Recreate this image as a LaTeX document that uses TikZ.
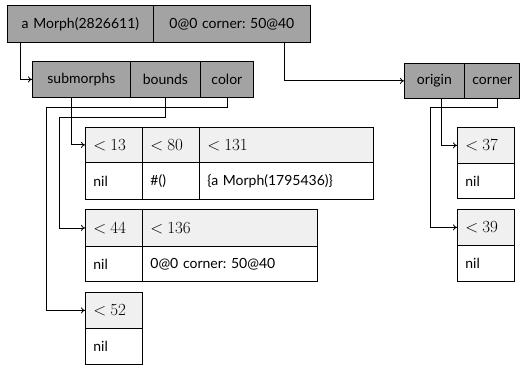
\documentclass[tikz,border=0pt]{standalone}
\usepackage{fontspec}
\setmainfont{Lato}
\newfontfamily\stampfont{Latin Modern Roman}
\usetikzlibrary{arrows.meta}
\frenchspacing
\definecolor{slotgray}{HTML}{A3A3A3}
\definecolor{headgray}{HTML}{F0F0F0}
% one table cell: name, x1, y1, x2, y2, style, text (pixel-like units, y downwards)
\newcommand\tcell[7]{%
  \pgfmathsetmacro\cw{#4-#2}\pgfmathsetmacro\ch{#5-#3}\pgfmathsetmacro\tw{#4-#2-16}%
  \node[#6, minimum width=\cw pt, minimum height=\ch pt, text width=\tw pt,
        anchor=north west] (#1) at (#2,-#3) {#7};}
% a version stamp such as "< 13"
\newcommand\stamp[1]{{\stampfont\fontsize{17}{19}\selectfont <\kern4pt#1}}
\begin{document}
\begin{tikzpicture}[x=1pt,y=1pt,
  every node/.style={font=\fontsize{14}{16}\selectfont, inner xsep=8pt, inner ysep=0pt, draw=black, line width=0.8pt},
  slot/.style={fill=slotgray, align=center},
  head/.style={fill=headgray, align=left},
  val/.style={fill=white, align=left},
  arr/.style={draw=black, line width=0.8pt, -{To[length=4pt,width=6pt]}}]
\useasboundingbox (0,0) rectangle (524,-366);
% receiver object and its slot names
\tcell{mA}{7}{5}{153}{42}{slot}{a Morph(2826611)}
\tcell{mB}{153}{5}{310}{42}{slot}{0@0 corner: 50@40}
\tcell{s1}{32}{61}{130}{97}{slot}{submorphs}
\tcell{s2}{130}{61}{200}{97}{slot}{bounds}
\tcell{s3}{200}{61}{253}{97}{slot}{color}
\tcell{o1}{404}{63}{464}{98}{slot}{origin}
\tcell{o2}{464}{63}{519}{98}{slot}{corner}
% submorphs history
\tcell{a1}{85}{127}{142}{162}{head}{\stamp{13}}
\tcell{a2}{142}{127}{199}{162}{head}{\stamp{80}}
\tcell{a3}{199}{127}{373}{162}{head}{\stamp{131}}
\tcell{b1}{85}{162}{142}{199}{val}{nil}
\tcell{b2}{142}{162}{199}{199}{val}{\#()}
\tcell{b3}{199}{162}{373}{199}{val}{\{a Morph(1795436)\}}
% bounds history
\tcell{c1}{85}{209}{142}{246}{head}{\stamp{44}}
\tcell{c2}{142}{209}{317}{246}{head}{\stamp{136}}
\tcell{d1}{85}{246}{142}{281}{val}{nil}
\tcell{d2}{142}{246}{317}{281}{val}{0@0 corner: 50@40}
% color history
\tcell{e1}{85}{292}{142}{328}{head}{\stamp{52}}
\tcell{f1}{85}{328}{142}{364}{val}{nil}
% origin and corner histories
\tcell{g1}{457}{127}{514}{163}{head}{\stamp{37}}
\tcell{h1}{457}{163}{514}{198}{val}{nil}
\tcell{i1}{457}{209}{514}{245}{head}{\stamp{39}}
\tcell{j1}{457}{245}{514}{281}{val}{nil}
% references
\draw[arr] ([xshift=13]mA.south west) |- (s1.west);
\draw[arr] ([xshift=-26]mB.south east) |- (o1.west);
\draw[arr] ([xshift=39]s1.south west) |- (a1.west);
\draw[arr] (s2.south) -- ++(0,-20) -| ([xshift=-26]c1.west) -- (c1.west);
\draw[arr] (s3.south) -- ++(0,-10) -| ([xshift=-39]e1.west) -- (e1.west);
\draw[arr] ([xshift=7]o1.south) |- (g1.west);
\draw[arr] ([xshift=5]o2.south) -- ++(0,-9) -| ([xshift=-27]i1.west) -- (i1.west);
\end{tikzpicture}
\end{document}
